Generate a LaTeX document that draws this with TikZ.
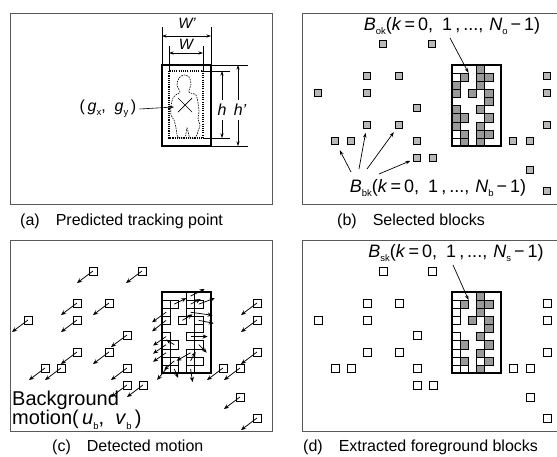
\documentclass[tikz,border=0pt]{standalone}
\usepackage{fontspec}
\setmainfont{Liberation Sans}
\usetikzlibrary{arrows.meta}
% lowered small subscript in the label font
\newcommand{\lowsub}[1]{\raisebox{-0.45ex}{\fontsize{9.5}{9.5}\selectfont #1}}
\begin{document}
\begin{tikzpicture}[x=1pt,y=-1pt]
\tikzset{
  panelframe/.style={draw=black!65, line width=0.8pt},
  personbox/.style={draw, line width=1.2pt},
  thinline/.style={line width=0.5pt},
  dimarrow/.style={line width=0.5pt, -{Stealth[length=4.5pt,width=3pt]}},
  ptr/.style={line width=0.7pt, -{Stealth[length=5pt,width=3.5pt]}},
  motion/.style={line width=0.75pt, -{Stealth[length=5pt,width=4.2pt]}},
  selblk/.style={draw, line width=0.9pt, fill=black!28, minimum size=6.8pt, inner sep=0pt},
  hollowblk/.style={draw, line width=0.8pt, fill=white, minimum size=7.8pt, inner sep=0pt},
  cellfg/.style={draw, line width=0.4pt, fill=black!40, minimum width=8.17pt, minimum height=8.1pt, inner sep=0pt},
  cellbg/.style={draw, line width=0.4pt, fill=white, minimum width=8.17pt, minimum height=8.1pt, inner sep=0pt},
  lbl/.style={font=\fontsize{18}{20}\selectfont, inner sep=0pt},
  dimlbl/.style={font=\fontsize{15}{17}\selectfont\itshape, inner sep=0pt},
  captext/.style={font=\fontsize{16}{18}\selectfont, anchor=west, inner sep=0pt},
}
% block centres shared by panels (b), (c), (d), in panel-local coordinates
\def\bgblocks{93/44,142/44,77/76,109/76,28/93,77/93,127/108,77/125,109/125,45/141,61/141,127/141,127/158,143/158,223/141,240/141,257/76,257/93,257/125,240/170,257/191}
% cells (row/column) of the 6x10 grid inside the person box
\def\fgcells{0/3,1/1,1/3,1/4,2/0,2/3,3/0,3/2,3/4,4/4,5/0,5/3,6/0,6/1,6/4,7/0,7/3,8/1,8/3,8/4,9/1,9/3}
\def\bgcells{1/0,8/0,9/0}
\def\sfgcells{0/3,1/1,1/3,1/4,2/3,3/2,3/4,4/4,5/3,6/1,6/4,7/3,8/1,8/4,9/3}
\def\sbgcells{1/0,2/0,3/0,5/0,6/0,7/0,8/0,8/3,9/0,9/1}
% index label text: symbol, subscript, count subscript
\newcommand{\blocklabel}[3]{\textit{#1}\lowsub{#2}(\textit{k}\,=\,0,\hspace{9pt}1\,,\,...,\hspace{6pt}\textit{N}\lowsub{#3}\,−\,1)}

\useasboundingbox (0,0) rectangle (557,456);
\clip (0,0) rectangle (557,456);

% panel frames
\draw[panelframe] (10,13) rectangle (272,204);
\draw[panelframe] (302,13) rectangle (565,204);
\draw[panelframe] (10,240) rectangle (272,431);
\draw[panelframe] (302,240) rectangle (565,431);

% captions
\node[captext] (capa) at (20,221) {(a)\hspace{16pt}Predicted tracking point};
\node[captext] (capb) at (337,221) {(b)\hspace{16pt}Selected blocks};
\node[captext] (capc) at (52,447) {(c)\hspace{16pt}Detected motion};
\node[captext] (capd) at (303,447) {(d)\hspace{16pt}Extracted foreground blocks};

% ---------------- (a) predicted tracking point ----------------
\node[personbox, minimum width=49pt, minimum height=81pt, inner sep=0pt] (pbox) at (186.5,105.5) {};
\draw[line width=1.2pt, dash pattern=on 1.1pt off 1.1pt] (169,71) rectangle (203,138);
% silhouette
\draw[line width=0.6pt, dash pattern=on 1.6pt off 1pt] plot[smooth cycle, tension=0.55] coordinates {
  (180,92) (177,85) (179,78) (184,75) (189,77) (191,84) (189,92) (196,95) (198,103)
  (199,112) (198,119) (200,125) (198,131) (196,137) (190,138) (187,128) (185,137)
  (178,137) (176,128) (174,120) (171,115) (171,106) (173,98) (177,94)};
% centre mark
\draw[line width=0.7pt] (178,98) -- (192,112) (178,112) -- (192,98);
\node[dimlbl, font=\fontsize{16}{18}\selectfont] (glbl) at (108,109) {(\,\textit{g}\lowsub{x},\ \ \textit{g}\lowsub{y}\,)};
\coordinate (gtip) at (174,107);
\draw[dimarrow, line width=0.6pt] (glbl.east) ++(3,0) -- (gtip);
% width dimensions
\draw[thinline] (162,27) -- (162,65) (211,27) -- (211,65);
\draw[thinline] (169,46) -- (169,71) (203,46) -- (203,71);
\draw[dimarrow, {Stealth[length=4.5pt,width=3pt]}-{Stealth[length=4.5pt,width=3pt]}] (162,36) -- (211,36);
\draw[dimarrow, {Stealth[length=4.5pt,width=3pt]}-{Stealth[length=4.5pt,width=3pt]}] (169,53) -- (203,53);
\node[dimlbl] (wp) at (187,23) {W\textquoteright};
\node[dimlbl] (w) at (186,44) {W};
% height dimensions
\draw[thinline] (203,71) -- (230,71) (203,138) -- (230,138);
\draw[thinline] (211,65) -- (248,65) (211,146) -- (248,146);
\node[dimlbl, font=\fontsize{16}{18}\selectfont\itshape] (hl) at (222,110) {h};
\node[dimlbl, font=\fontsize{16}{18}\selectfont\itshape] (hpl) at (240,110) {h\textquoteright};
\draw[dimarrow] (222,100) -- (222,71);
\draw[dimarrow] (222,120) -- (222,138);
\draw[dimarrow] (238,100) -- (238,65);
\draw[dimarrow] (238,120) -- (238,146);

% ---------------- (b) selected blocks ----------------
\begin{scope}[shift={(290,0)}]
  \foreach \r/\c in \fgcells {\node[cellfg] (b-\r-\c) at ({162+(\c+0.5)*49/6},{65+(\r+0.5)*8.1}) {};}
  \foreach \r/\c in \bgcells {\node[cellbg] (b-\r-\c) at ({162+(\c+0.5)*49/6},{65+(\r+0.5)*8.1}) {};}
  \draw[personbox] (162,65) rectangle (211,146);
  \foreach \x/\y [count=\i] in \bgblocks {\node[selblk] (bb\i) at (\x,\y) {};}
  \node[lbl] (bok) at (162,26) {\blocklabel{B}{ok}{o}};
  \coordinate (bokfrom) at (160,38);
  \draw[ptr] (bokfrom) -- (b-1-1.north east);
  \node[lbl] (bbk) at (148,188) {\blocklabel{B}{bk}{b}};
  \coordinate (bk1) at (61,172);
  \coordinate (bk2) at (69,169);
  \coordinate (bk3) at (77,169);
  \coordinate (bk4) at (89,174);
  \draw[ptr, shorten >=6pt] (bk1) -- (bb10);
  \draw[ptr, shorten >=4pt] (bk2) -- (bb8);
  \draw[ptr, shorten >=4pt] (bk3) -- (bb9);
  \draw[ptr, shorten >=3pt] (bk4) -- (bb13);
\end{scope}

% ---------------- (c) detected motion ----------------
\begin{scope}[shift={(0,227)}]
  \foreach \r/\c in \fgcells {\node[cellbg] (c-\r-\c) at ({162+(\c+0.5)*49/6},{65+(\r+0.5)*8.1}) {};}
  \foreach \r/\c in \bgcells {\node[cellbg] (c-\r-\c) at ({162+(\c+0.5)*49/6},{65+(\r+0.5)*8.1}) {};}
  \draw[personbox] (162,65) rectangle (211,146);
  % background blocks with their motion vectors
  \foreach \x/\y [count=\i] in \bgblocks {
    \node[hollowblk] (cc\i) at (\x,\y) {};
    \path (cc\i.center) ++(-16,12) coordinate (cm\i);
    \draw[motion] (cc\i.center) -- (cm\i);
  }
  % motion vectors of the blocks inside the person box
  \foreach \r/\c/\dx/\dy [count=\i] in {
      2/0/-14/10, 3/0/-14/11, 5/0/-13/9, 6/0/-13/9, 7/0/-13/9, 9/0/-9/11,
      0/3/14/-7, 1/1/12/-6, 1/3/10/-5, 1/4/16/-6, 2/3/22/3, 3/4/15/3, 3/2/10/-6,
      5/3/17/0, 6/4/8/8, 6/1/-8/-5, 7/3/-14/8, 8/1/-10/9, 9/1/4/9, 9/3/2/13, 8/3/5/-9} {
    \path (c-\r-\c.center) ++(\dx,\dy) coordinate (cv\i);
    \draw[motion] (c-\r-\c.center) -- (cv\i);
  }
  \node[lbl, font=\fontsize{20}{18}\selectfont, anchor=south west, align=left] (bgm) at (12,203)
    {Background\\motion(\,\textit{u}\lowsub{b},\ \ \textit{v}\lowsub{b}\,)};
\end{scope}

% ---------------- (d) extracted foreground blocks ----------------
\begin{scope}[shift={(290,227)}]
  \foreach \r/\c in \sfgcells {\node[cellfg] (d-\r-\c) at ({162+(\c+0.5)*49/6},{65+(\r+0.5)*8.1}) {};}
  \foreach \r/\c in \sbgcells {\node[cellbg] (d-\r-\c) at ({162+(\c+0.5)*49/6},{65+(\r+0.5)*8.1}) {};}
  \draw[personbox] (162,65) rectangle (211,146);
  \foreach \x/\y [count=\i] in \bgblocks {\node[hollowblk] (dd\i) at (\x,\y) {};}
  \node[lbl] (bsk) at (166,26) {\blocklabel{B}{sk}{s}};
  \coordinate (bskfrom) at (163,38);
  \draw[ptr] (bskfrom) -- (d-1-1.north east);
\end{scope}
\end{tikzpicture}
\end{document}
